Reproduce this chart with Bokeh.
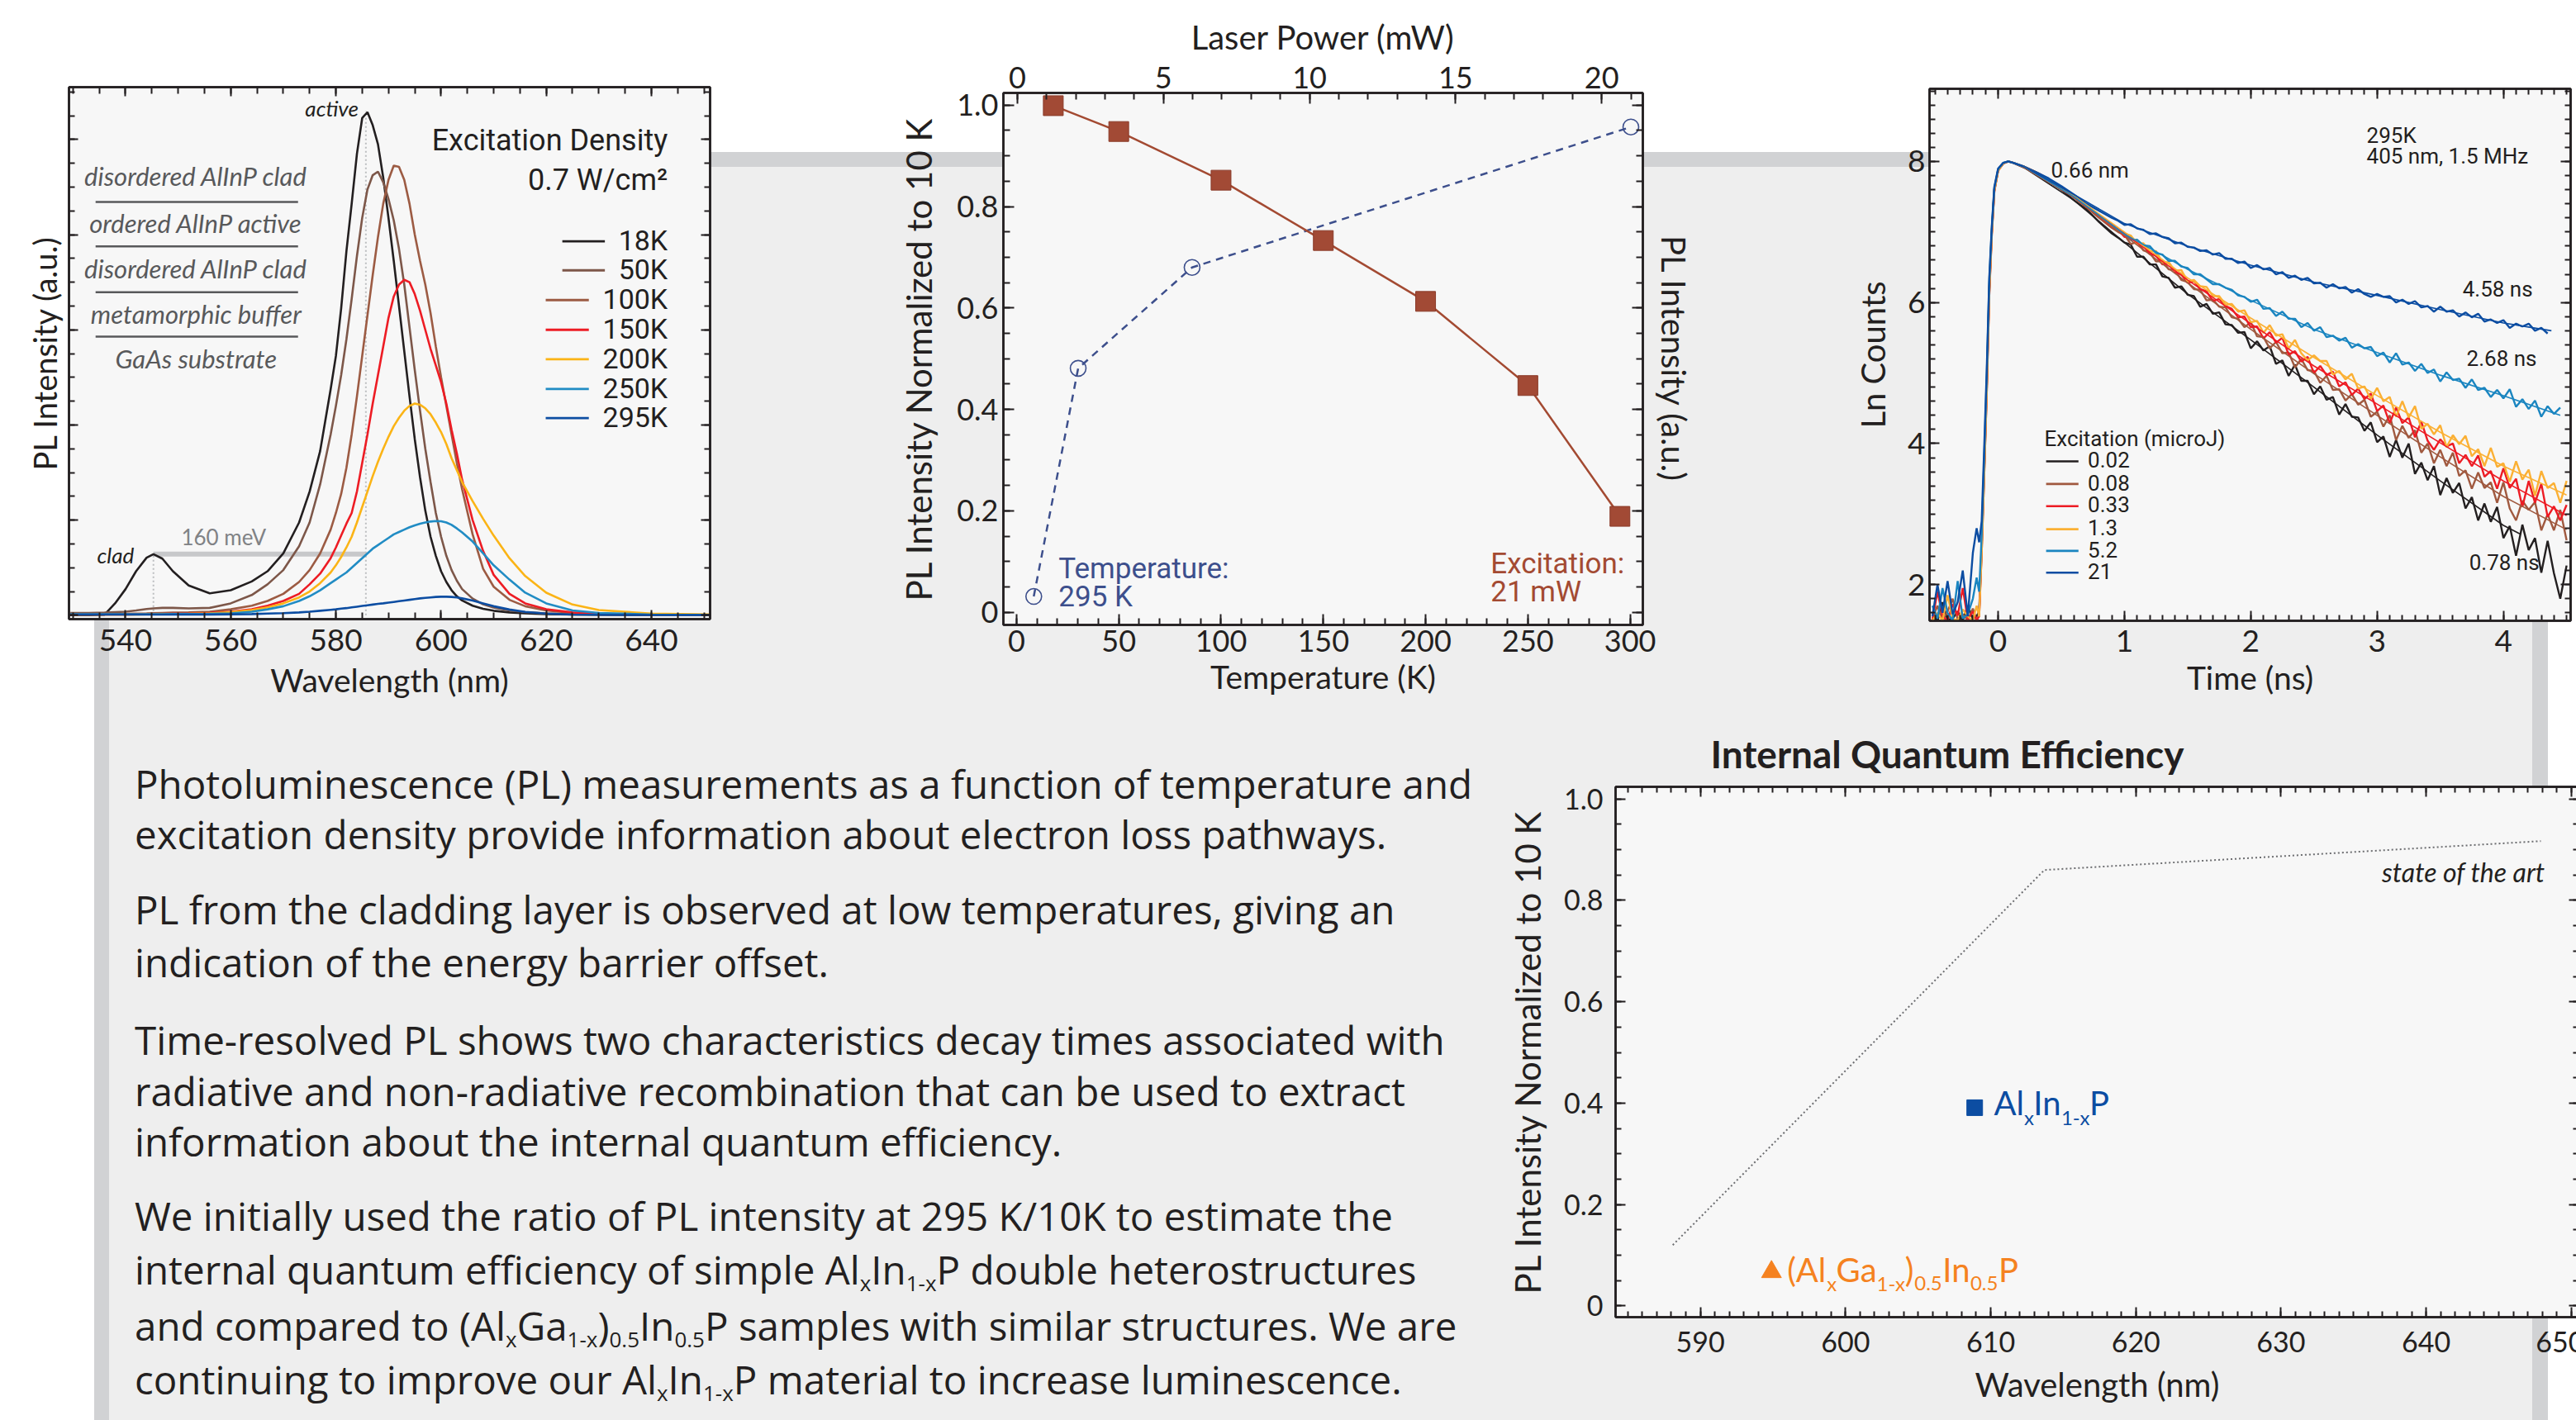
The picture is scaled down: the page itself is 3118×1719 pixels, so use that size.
from bokeh.plotting import figure
from bokeh.models import (LinearAxis, Range1d, SingleIntervalTicker, Div, CustomLabelingPolicy,
                          CustomJSTickFormatter)
from bokeh.layouts import row, column
from bokeh.core.properties import value
from bokeh.embed import file_html
from bokeh.resources import INLINE

# ---------------------------------------------------------------- data
# Panel 1: PL spectra vs temperature (arbitrary units)
spec_wl = [529.5, 533, 536, 538, 540, 542, 544, 545.3, 547, 549, 552, 556, 560, 564, 567, 570, 573, 575, 577, 579,
           580, 581, 582, 583, 584, 585, 586, 587, 588, 589, 590, 591, 592, 593, 594, 595, 596, 597, 598, 599,
           600, 601, 602, 603, 604, 606, 608, 610, 613, 616, 620, 625, 630, 640, 651.5]
pl_18K = [0.0, 0.0, 0.02, 0.5, 1.1, 1.85, 2.42, 2.57, 2.38, 1.85, 1.25, 0.92, 1.05, 1.42, 1.85, 2.6, 3.9, 5.2, 6.9, 9.5,
          10.9, 12.9, 15.3, 17.3, 19.4, 20.9, 21.15, 20.6, 19.8, 18.4, 16.7, 14.9, 13.0, 11.1, 9.2, 7.4, 5.8, 4.4, 3.3, 2.5,
          1.85, 1.4, 1.05, 0.8, 0.62, 0.4, 0.27, 0.19, 0.12, 0.08, 0.05, 0.03, 0.02, 0.01, 0.0]
pl_50K = [0.1, 0.1, 0.11, 0.13, 0.15, 0.2, 0.26, 0.29, 0.31, 0.31, 0.29, 0.31, 0.5, 0.85, 1.3, 1.9, 2.9, 3.9, 5.5, 7.6,
          8.8, 10.1, 11.6, 13.3, 15.1, 16.7, 17.9, 18.5, 18.65, 18.2, 17.5, 16.6, 15.4, 13.9, 12.1, 10.3, 8.6, 7.0, 5.6, 4.3,
          3.3, 2.5, 1.9, 1.45, 1.1, 0.7, 0.46, 0.32, 0.2, 0.13, 0.08, 0.05, 0.03, 0.02, 0.01]
pl_100K = [0.05, 0.05, 0.05, 0.05, 0.06, 0.07, 0.08, 0.09, 0.1, 0.11, 0.12, 0.15, 0.25, 0.4, 0.6, 0.9, 1.4, 1.9, 2.6, 3.6,
           4.3, 5.1, 6.2, 7.6, 9.2, 10.9, 12.6, 14.3, 15.9, 17.3, 18.3, 18.9, 18.85, 18.3, 17.3, 16.0, 14.9, 13.9, 12.7, 11.3,
           10.0, 8.8, 7.6, 6.4, 5.3, 3.4, 1.95, 1.2, 0.65, 0.38, 0.2, 0.1, 0.06, 0.03, 0.02]
pl_150K = [0.03, 0.03, 0.03, 0.03, 0.03, 0.04, 0.04, 0.05, 0.05, 0.06, 0.07, 0.1, 0.15, 0.25, 0.4, 0.6, 0.9, 1.3, 1.75, 2.4,
           2.85, 3.35, 3.85, 4.3, 5.2, 6.4, 7.6, 8.9, 10.1, 11.3, 12.5, 13.4, 13.9, 14.1, 14.0, 13.5, 12.8, 12.0, 11.2, 10.5,
           9.8, 8.9, 7.8, 6.8, 5.7, 4.0, 2.7, 1.7, 0.9, 0.5, 0.25, 0.12, 0.06, 0.03, 0.02]
pl_200K = [0.03, 0.03, 0.03, 0.03, 0.03, 0.03, 0.04, 0.04, 0.05, 0.05, 0.06, 0.08, 0.13, 0.22, 0.33, 0.5, 0.75, 1.0, 1.35, 1.8,
           2.1, 2.45, 2.85, 3.3, 3.9, 4.55, 5.2, 5.85, 6.45, 7.0, 7.5, 7.95, 8.3, 8.6, 8.8, 8.9, 8.85, 8.7, 8.45, 8.1,
           7.7, 7.2, 6.6, 6.1, 5.6, 4.8, 4.05, 3.35, 2.4, 1.65, 0.95, 0.45, 0.22, 0.07, 0.03]
pl_250K = [0.04, 0.04, 0.04, 0.04, 0.04, 0.04, 0.04, 0.04, 0.04, 0.05, 0.05, 0.06, 0.08, 0.15, 0.25, 0.38, 0.6, 0.8, 1.05, 1.35,
           1.5, 1.65, 1.8, 2.0, 2.2, 2.4, 2.6, 2.8, 2.95, 3.1, 3.25, 3.4, 3.5, 3.6, 3.7, 3.78, 3.85, 3.9, 3.94, 3.96,
           3.95, 3.9, 3.8, 3.65, 3.48, 3.1, 2.6, 2.1, 1.5, 0.95, 0.5, 0.2, 0.1, 0.03, 0.02]
pl_295K = [0.03, 0.03, 0.03, 0.03, 0.03, 0.03, 0.03, 0.03, 0.03, 0.03, 0.03, 0.03, 0.04, 0.05, 0.07, 0.09, 0.12, 0.15, 0.19, 0.23,
           0.25, 0.28, 0.3, 0.33, 0.36, 0.39, 0.42, 0.45, 0.48, 0.5, 0.53, 0.56, 0.59, 0.62, 0.65, 0.68, 0.71, 0.73, 0.75, 0.77,
           0.78, 0.78, 0.77, 0.75, 0.71, 0.62, 0.5, 0.38, 0.24, 0.14, 0.07, 0.03, 0.02, 0.01, 0.01]
spec_labels = ["18K", "50K", "100K", "150K", "200K", "250K", "295K"]
layer_names = ["disordered AlInP clad", "ordered AlInP active", "disordered AlInP clad",
               "metamorphic buffer", "GaAs substrate"]
clad_peak_wl, clad_peak_pl = 545.3, 2.57
active_peak_wl, active_peak_pl = 585.7, 21.2

# Panel 2: normalized PL vs temperature / laser power
temp_K = [18, 50, 100, 150, 200, 250, 295]
pl_vs_temp = [0.999, 0.948, 0.852, 0.733, 0.613, 0.447, 0.189]
power_mW = [0.56, 2.08, 5.98, 21.0]
pl_vs_power = [0.031, 0.481, 0.680, 0.957]

# Panel 3: time-resolved PL (ln counts)
t_decay = [-0.52, -0.48, -0.44, -0.40, -0.36, -0.32, -0.28, -0.24, -0.20, -0.17, -0.15, -0.13, -0.11, -0.09, -0.07,
           -0.05, -0.03, 0.0, 0.04, 0.08, 0.12, 0.2, 0.3, 0.4, 0.5, 0.6, 0.7, 0.8, 0.9, 0.95,
           1.0, 1.05, 1.1, 1.15, 1.2, 1.25, 1.3, 1.35, 1.4, 1.45, 1.5, 1.55, 1.6, 1.65, 1.7, 1.75, 1.8, 1.85, 1.9, 1.95,
           2.0, 2.05, 2.1, 2.15, 2.2, 2.25, 2.3, 2.35, 2.4, 2.45, 2.5, 2.55, 2.6, 2.65, 2.7, 2.75, 2.8, 2.85, 2.9, 2.95,
           3.0, 3.05, 3.1, 3.15, 3.2, 3.25, 3.3, 3.35, 3.4, 3.45, 3.5, 3.55, 3.6, 3.65, 3.7, 3.75, 3.8, 3.85, 3.9, 3.95,
           4.0, 4.05, 4.1, 4.15, 4.2, 4.25, 4.3, 4.35, 4.4, 4.45, 4.5]
ln_002 = [1.60, 1.48, 1.75, 1.50, 1.52, 1.62, 1.49, 1.70, 1.52, 1.55, 1.62, 2.55, 3.65, 4.80, 6.20, 7.00, 7.60, 7.88, 7.97, 8.00,
          7.98, 7.92, 7.83, 7.72, 7.60, 7.45, 7.32, 7.14, 6.98, 6.92,
          6.85, 6.82, 6.65, 6.65, 6.54, 6.54, 6.37, 6.35, 6.21, 6.23, 6.11, 6.09, 5.94, 5.98, 5.84, 5.86, 5.69, 5.68, 5.57, 5.58,
          5.35, 5.45, 5.32, 5.38, 5.13, 5.18, 4.96, 5.12, 4.89, 4.89, 4.70, 4.81, 4.62, 4.66, 4.41, 4.56, 4.38, 4.37, 4.18, 4.30,
          4.02, 4.10, 3.81, 4.05, 3.80, 4.00, 3.57, 3.73, 3.48, 3.68, 3.27, 3.51, 3.30, 3.44, 3.08, 3.24, 2.91, 3.15, 2.89, 3.10,
          2.66, 2.83, 2.41, 2.85, 2.49, 2.66, 2.17, 2.62, 2.16, 1.80, 2.27]
ln_008 = [1.52, 1.70, 1.49, 1.62, 1.80, 1.50, 1.58, 1.49, 1.66, 1.50, 1.58, 2.50, 3.60, 4.75, 6.15, 6.98, 7.58, 7.87, 7.97, 8.00,
          7.98, 7.92, 7.84, 7.74, 7.62, 7.49, 7.35, 7.20, 7.06, 7.00,
          6.96, 6.83, 6.86, 6.74, 6.71, 6.58, 6.59, 6.47, 6.46, 6.32, 6.29, 6.19, 6.18, 6.03, 6.04, 5.94, 5.93, 5.79, 5.77, 5.65,
          5.72, 5.52, 5.51, 5.35, 5.44, 5.28, 5.29, 5.08, 5.20, 5.04, 5.03, 4.86, 4.96, 4.76, 4.77, 4.61, 4.70, 4.55, 4.62, 4.38,
          4.45, 4.24, 4.40, 4.05, 4.25, 4.08, 4.19, 3.87, 4.00, 3.72, 3.91, 3.68, 3.87, 3.54, 3.62, 3.36, 3.59, 3.37, 3.45, 3.16,
          3.45, 3.08, 2.91, 3.19, 3.06, 3.17, 2.77, 3.00, 2.77, 3.06, 2.63]
ln_033 = [1.50, 1.90, 1.55, 1.49, 1.72, 1.56, 1.95, 1.50, 1.62, 1.49, 1.55, 2.45, 3.55, 4.70, 6.10, 6.95, 7.57, 7.87, 7.97, 8.00,
          7.98, 7.93, 7.85, 7.75, 7.63, 7.50, 7.36, 7.22, 7.08, 7.03,
          6.93, 6.93, 6.84, 6.82, 6.69, 6.67, 6.54, 6.57, 6.43, 6.40, 6.28, 6.30, 6.19, 6.16, 6.02, 6.05, 5.95, 5.91, 5.79, 5.80,
          5.65, 5.66, 5.49, 5.58, 5.43, 5.50, 5.26, 5.31, 5.16, 5.23, 5.00, 5.10, 4.97, 5.02, 4.81, 4.87, 4.69, 4.78, 4.63, 4.71,
          4.46, 4.54, 4.29, 4.51, 4.29, 4.37, 4.09, 4.31, 4.04, 3.91, 4.06, 3.96, 4.00, 3.72, 3.84, 3.68, 3.83, 3.53, 3.61, 3.36,
          3.65, 3.37, 3.50, 3.10, 3.47, 3.16, 3.43, 2.96, 3.11, 2.91, 3.13]
ln_13 = [1.49, 1.60, 1.49, 1.85, 1.52, 1.49, 1.65, 1.55, 1.49, 1.70, 1.55, 2.45, 3.55, 4.72, 6.12, 6.96, 7.58, 7.87, 7.97, 8.00,
         7.98, 7.93, 7.85, 7.75, 7.63, 7.51, 7.37, 7.23, 7.09, 7.04,
         6.98, 6.95, 6.83, 6.84, 6.73, 6.73, 6.57, 6.57, 6.45, 6.46, 6.30, 6.32, 6.23, 6.22, 6.09, 6.09, 5.97, 5.98, 5.87, 5.89,
         5.72, 5.74, 5.57, 5.68, 5.53, 5.55, 5.35, 5.47, 5.28, 5.18, 5.25, 5.17, 5.17, 4.98, 5.03, 4.91, 4.99, 4.78, 4.81, 4.63,
         4.79, 4.60, 4.66, 4.38, 4.60, 4.37, 4.53, 4.21, 4.28, 4.13, 4.26, 3.95, 4.12, 3.99, 4.11, 3.82, 3.92, 3.68, 3.94, 3.67,
         3.72, 3.46, 3.75, 3.49, 3.63, 3.26, 3.61, 3.37, 3.44, 3.16, 3.47]
ln_52 = [1.70, 1.52, 1.95, 1.60, 1.49, 2.05, 1.52, 1.58, 1.80, 2.10, 1.90, 2.70, 3.80, 4.95, 6.30, 7.05, 7.62, 7.89, 7.98, 8.00,
         7.98, 7.93, 7.84, 7.74, 7.62, 7.50, 7.37, 7.23, 7.10, 7.03,
         6.98, 6.89, 6.89, 6.81, 6.80, 6.70, 6.68, 6.59, 6.59, 6.51, 6.49, 6.40, 6.40, 6.33, 6.26, 6.26, 6.21, 6.18, 6.10, 6.08,
         6.01, 6.04, 5.91, 5.92, 5.81, 5.87, 5.77, 5.77, 5.65, 5.71, 5.60, 5.65, 5.51, 5.53, 5.46, 5.50, 5.36, 5.41, 5.35, 5.37,
         5.24, 5.29, 5.15, 5.28, 5.12, 5.15, 5.03, 5.13, 5.00, 5.05, 4.88, 5.01, 4.90, 4.92, 4.79, 4.91, 4.76, 4.79, 4.66, 4.76,
         4.64, 4.77, 4.52, 4.63, 4.49, 4.61, 4.38, 4.53, 4.42, 4.51]
ln_21 = [1.55, 2.00, 1.60, 2.05, 1.58, 1.75, 2.20, 1.55, 2.45, 2.80, 2.60, 2.90, 3.95, 5.05, 6.35, 7.08, 7.64, 7.90, 7.98, 8.00,
         7.98, 7.93, 7.85, 7.76, 7.65, 7.53, 7.40, 7.30, 7.20, 7.16,
         7.10, 7.11, 7.05, 7.03, 6.97, 6.98, 6.93, 6.91, 6.84, 6.85, 6.79, 6.78, 6.73, 6.74, 6.68, 6.70, 6.62, 6.62, 6.56, 6.58,
         6.49, 6.53, 6.47, 6.49, 6.40, 6.43, 6.35, 6.38, 6.32, 6.35, 6.27, 6.28, 6.21, 6.26, 6.20, 6.22, 6.14, 6.19, 6.12, 6.08,
         6.12, 6.08, 6.09, 6.00, 6.04, 5.98, 6.02, 5.93, 5.95, 5.87, 5.94, 5.87, 5.89, 5.80, 5.86, 5.79, 5.84, 5.73, 5.76, 5.71,
         5.75, 5.64, 5.70, 5.66, 5.70, 5.60, 5.64, 5.56]
fit_t_002 = [0.2, 0.6, 1.0, 1.5, 2.0, 2.5, 3.0, 3.5, 4.0, 4.13]
fit_002 = [7.92, 7.45, 6.85, 6.12, 5.47, 4.80, 4.12, 3.47, 2.84, 2.72]
fit_t = [0.2, 0.6, 1.0, 1.5, 2.0, 2.5, 3.0, 3.5, 4.0, 4.5]
fit_008 = [7.92, 7.49, 6.95, 6.28, 5.62, 4.99, 4.40, 3.81, 3.25, 2.78]
fit_033 = [7.93, 7.50, 6.98, 6.32, 5.70, 5.10, 4.56, 4.01, 3.47, 2.98]
fit_13 = [7.93, 7.51, 7.00, 6.35, 5.78, 5.22, 4.68, 4.16, 3.68, 3.27]
fit_t_52 = [0.2, 0.6, 1.0, 1.5, 2.0, 2.5, 3.0, 3.5, 4.0, 4.45]
fit_52 = [7.93, 7.50, 6.97, 6.47, 6.03, 5.62, 5.29, 4.97, 4.68, 4.40]
fit_t_21 = [0.2, 0.6, 1.0, 1.5, 2.0, 2.5, 3.0, 3.5, 4.0, 4.38]
fit_21 = [7.93, 7.53, 7.12, 6.80, 6.53, 6.29, 6.10, 5.90, 5.71, 5.60]
excitation_labels = ["0.02", "0.08", "0.33", "1.3", "5.2", "21"]
lifetime_labels = ["4.58 ns", "2.68 ns", "0.78 ns"]

# Panel 4: internal quantum efficiency
sota_wl = [588.1, 613.7, 647.9]
sota_iqe = [0.12, 0.86, 0.917]
alinp_wl = [608.9]
alinp_iqe = [0.391]
algainp_wl = [594.9]
algainp_iqe = [0.067]

body_lines = [
    "Photoluminescence (PL) measurements as a function of temperature and",
    "excitation density provide information about electron loss pathways.",
    "PL from the cladding layer is observed at low temperatures, giving an",
    "indication of the energy barrier offset.",
    "Time-resolved PL shows two characteristics decay times associated with",
    "radiative and non-radiative recombination that can be used to extract",
    "information about the internal quantum efficiency.",
    "We initially used the ratio of PL intensity at 295 K/10K to estimate the",
    "internal quantum efficiency of simple Al<sub>x</sub>In<sub>1-x</sub>P double heterostructures",
    "and compared to (Al<sub>x</sub>Ga<sub>1-x</sub>)<sub>0.5</sub>In<sub>0.5</sub>P samples with similar structures. We are",
    "continuing to improve our Al<sub>x</sub>In<sub>1-x</sub>P material to increase luminescence.",
]

# ---------------------------------------------------------------- style
INK = "#231f20"
PANEL = "#f7f7f7"
HELV = "Roboto"
MYR = "Lato"
spec_colors = ["#231f20", "#7d5749", "#9c5b43", "#ed1c24", "#fbb416", "#218cc4", "#0c4da2"]
decay_colors = ["#231f20", "#a0593f", "#ed1c24", "#fbb034", "#1a85c0", "#0c4da2"]
HIDE = "for (const i of indices) { indices.unset(i) }\nreturn indices"
ONE_DEC = "return tick == 0 ? '0' : tick.toFixed(1)"

TOP_H = 868
BOT_H = 1719 - TOP_H


def base_fig(w, h, xr, yr, ml, mr, mt, mb, title=None):
    p = figure(width=w, height=h, x_range=Range1d(*xr), y_range=Range1d(*yr),
               toolbar_location=None, output_backend="svg",
               x_axis_location=None, y_axis_location=None,
               min_border_left=ml, min_border_right=mr, min_border_top=mt, min_border_bottom=mb,
               title=title)
    p.frame_align = False
    p.grid.visible = False
    p.background_fill_color = PANEL
    p.border_fill_color = None
    p.outline_line_color = INK
    p.outline_line_width = 2.5
    return p


def add_axis(p, side, interval, minor, major_in, minor_in, label_px=None, standoff=0, label=None,
             label_font_px=40, label_standoff=5, range_name=None, one_decimal=False):
    kw = {}
    if range_name:
        kw["x_range_name" if side in ("above", "below") else "y_range_name"] = range_name
    ax = LinearAxis(ticker=SingleIntervalTicker(interval=interval, num_minor_ticks=minor), **kw)
    ax.axis_line_color = INK
    ax.axis_line_width = 2.5
    ax.major_tick_line_color = INK
    ax.major_tick_line_width = 2
    ax.minor_tick_line_color = INK
    ax.minor_tick_line_width = 2
    ax.major_tick_in = major_in
    ax.major_tick_out = 0
    ax.minor_tick_in = minor_in
    ax.minor_tick_out = 0
    ax.major_label_text_font = MYR
    ax.major_label_text_color = INK
    if label_px is None:
        ax.major_label_text_font_size = "0px"
        ax.major_label_standoff = 0
        ax.major_label_policy = CustomLabelingPolicy(code=HIDE)
    else:
        ax.major_label_text_font_size = f"{label_px}px"
        ax.major_label_standoff = standoff
    if one_decimal:
        ax.formatter = CustomJSTickFormatter(code=ONE_DEC)
    if label:
        ax.axis_label = label
        ax.axis_label_text_font = MYR
        ax.axis_label_text_font_style = "normal"
        ax.axis_label_text_font_size = f"{label_font_px}px"
        ax.axis_label_text_color = INK
        ax.axis_label_standoff = label_standoff
    p.add_layout(ax, side)
    return ax


def note(p, xs, ys, texts, size, color=INK, font=HELV, align="left", style="normal"):
    p.text(x=xs, y=ys, text=texts, text_font=value(font), text_font_size=f"{size}px",
           text_font_style=style, text_align=align, text_baseline="alphabetic", text_color=color)


# ---------------------------------------------------------------- panel 1
p1 = base_fig(1008, TOP_H, (529.24, 651.16), (-0.163, 22.2), 83, 149, 105, TOP_H - 749)
add_axis(p1, "below", 20, 4, 11, 8, label_px=37, standoff=12, label="Wavelength (nm)", label_font_px=39,
         label_standoff=9)
add_axis(p1, "above", 20, 4, 11, 8)
add_axis(p1, "left", 4, 4, 11, 7, label="PL Intensity (a.u.)", label_font_px=38, label_standoff=7)
add_axis(p1, "right", 4, 4, 11, 7)

series = [pl_18K, pl_50K, pl_100K, pl_150K, pl_200K, pl_250K, pl_295K]
p1.line([clad_peak_wl, active_peak_wl], [clad_peak_pl, clad_peak_pl], line_color="#c7c8ca", line_width=6)
p1.line([clad_peak_wl, clad_peak_wl], [0, clad_peak_pl], line_color="#bcbec0", line_width=2, line_dash="2 3")
p1.line([active_peak_wl, active_peak_wl], [0, active_peak_pl], line_color="#bcbec0", line_width=2, line_dash="2 3")
for ys, c in zip(series, spec_colors):
    p1.line(spec_wl, ys, line_color=c, line_width=2.6)

leg_y = [15.72, 14.5, 13.25, 12.0, 10.76, 9.51, 8.29]
leg_x0 = [623.06, 623.06, 619.9, 619.9, 619.9, 619.9, 619.9]
leg_x1 = [631.15, 631.15, 628.1, 628.1, 628.1, 628.1, 628.1]
p1.segment(x0=leg_x0, x1=leg_x1, y0=leg_y, y1=leg_y, line_color=spec_colors, line_width=2.8)
note(p1, [643.1] * 7, [v + 0.03 for v in leg_y], spec_labels, 34, align="right")
note(p1, [643.1], [19.95], ["Excitation Density"], 36, align="right")
note(p1, [643.1], [18.3], ["0.7 W/cm\u00b2"], 36, align="right")
note(p1, [553.4] * 5, [18.45, 16.5, 14.58, 12.66, 10.78], layer_names, 31, color="#58595b", font=MYR,
     align="center", style="italic")
p1.segment(x0=[534.3] * 4, x1=[572.8] * 4, y0=[17.37, 15.51, 13.58, 11.71], y1=[17.37, 15.51, 13.58, 11.71],
           line_color="#58595b", line_width=2.5)
note(p1, [584.3, 541.6], [21.3, 2.52], ["active", "clad"], 26, font=MYR, align="right", style="italic")
note(p1, [550.6], [3.3], ["160 meV"], 26, color="#808285", font=MYR)

# ---------------------------------------------------------------- panel 2
p2 = base_fig(1150, TOP_H, (-6.4, 306.2), (-0.0251, 1.0241), 206, 170, 112, TOP_H - 756)
p2.extra_x_ranges = {"power": Range1d(-0.48, 21.41)}
add_axis(p2, "below", 50, 5, 13, 8, label_px=36, standoff=6, label="Temperature (K)", label_font_px=39,
         label_standoff=4)
add_axis(p2, "above", 5, 5, 13, 8, label_px=36, standoff=6, label="Laser Power (mW)", label_standoff=9,
         range_name="power")
add_axis(p2, "left", 0.2, 4, 13, 8, label_px=36, standoff=6, label="PL Intensity Normalized to 10 K",
         label_font_px=42, label_standoff=18, one_decimal=True)
add_axis(p2, "right", 0.2, 4, 13, 8, label="PL Intensity (a.u.)", label_standoff=13)

blue2 = "#3d4f8c"
red2 = "#a34a32"
p2.line(power_mW, pl_vs_power, x_range_name="power", line_color=blue2, line_width=2.5, line_dash="9 7")
p2.scatter(power_mW, pl_vs_power, x_range_name="power", marker="circle", size=19, fill_color=None,
           line_color=blue2, line_width=1.6)
p2.line(temp_K, pl_vs_temp, line_color=red2, line_width=2.5)
p2.scatter(temp_K, pl_vs_temp, marker="square", size=24, fill_color="#a24a35", line_color="#8a3a28", line_width=1)
note(p2, [20.6, 20.6], [0.085, 0.031], ["Temperature:", "295 K"], 35, color=blue2)
note(p2, [231.8, 231.8], [0.096, 0.04], ["Excitation:", "21 mW"], 35, color=red2)

# ---------------------------------------------------------------- panel 3
p3 = base_fig(960, TOP_H, (-0.543, 4.532), (1.487, 9.03), 177, 7, 107, TOP_H - 751)
add_axis(p3, "below", 1, 10, 12, 7, label_px=37, standoff=11, label="Time (ns)", label_font_px=39,
         label_standoff=5)
add_axis(p3, "above", 1, 10, 12, 7)
add_axis(p3, "left", 2, 10, 12, 7, label_px=37, standoff=5, label="Ln Counts", label_standoff=15)
add_axis(p3, "right", 2, 10, 12, 7)

decay = [ln_002, ln_008, ln_033, ln_13, ln_52, ln_21]
for ys, c in zip(decay, decay_colors):
    p3.line(t_decay[:len(ys)], ys, line_color=c, line_width=2.4)
fits = [(fit_t_002, fit_002), (fit_t, fit_008), (fit_t, fit_033), (fit_t, fit_13), (fit_t_52, fit_52),
        (fit_t_21, fit_21)]
for (ft, fy), c in zip(fits, decay_colors):
    p3.line(ft, fy, line_color=c, line_width=1.6)

leg3_y = [3.748, 3.427, 3.113, 2.786, 2.478, 2.169]
p3.segment(x0=[0.38] * 6, x1=[0.636] * 6, y0=leg3_y, y1=leg3_y, line_color=decay_colors, line_width=2.6)
note(p3, [0.71] * 6, [v + 0.02 for v in leg3_y], excitation_labels, 26)
note(p3, [0.366, 0.419, 2.917, 2.917], [4.07, 7.88, 8.37, 8.07],
     ["Excitation (microJ)", "0.66 nm", "295K", "405 nm, 1.5 MHz"], 26)
note(p3, [4.232, 4.264, 4.284], [6.19, 5.21, 2.31], lifetime_labels, 26, align="right")

# ---------------------------------------------------------------- panel 4
p4 = base_fig(1330, BOT_H, (584.16, 650.52), (-0.0223, 1.0241), 157, 7, 952 - TOP_H, 1719 - 1594,
              title="Internal Quantum Efficiency")
p4.title.text_font = MYR
p4.title.text_font_style = "bold"
p4.title.text_font_size = "46px"
p4.title.text_color = INK
p4.title.align = "left"
p4.title.offset = 115
p4.title.standoff = 25
add_axis(p4, "below", 10, 10, 12, 7, label_px=34, standoff=17, label="Wavelength (nm)", label_standoff=12)
add_axis(p4, "above", 10, 10, 12, 7)
add_axis(p4, "left", 0.2, 4, 12, 7, label_px=34, standoff=15, label="PL Intensity Normalized to 10 K",
         label_font_px=42, label_standoff=16, one_decimal=True)
add_axis(p4, "right", 0.2, 4, 12, 7)

blue4 = "#0c4da2"
orange4 = "#f58220"
p4.line(sota_wl, sota_iqe, line_color="#6d6e71", line_width=2, line_dash="2 3")
p4.scatter(alinp_wl, alinp_iqe, marker="square", size=19, fill_color=blue4, line_color=blue4)
p4.scatter(algainp_wl, algainp_iqe, marker="triangle", size=24, fill_color=orange4, line_color=orange4)
note(p4, [648.2], [0.857], ["state of the art"], 32, font=MYR, align="right", style="italic")
# Al_x In_1-x P
note(p4, [610.23, 612.95, 616.8], [0.4] * 3, ["Al", "In", "P"], 40, color=blue4, font=MYR)
note(p4, [612.3, 614.86], [0.372] * 2, ["x", "1-x"], 24, color=blue4, font=MYR)
# (Al_x Ga_1-x)_0.5 In_0.5 P
note(p4, [595.98, 599.36, 604.09, 606.69, 610.54], [0.072] * 5, ["(Al", "Ga", ")", "In", "P"], 40,
     color=orange4, font=MYR)
note(p4, [598.71, 602.15, 604.75, 608.6], [0.044] * 4, ["x", "1-x", "0.5", "0.5"], 24, color=orange4, font=MYR)

# ---------------------------------------------------------------- body text
line_tops = [51.9, 113.3, 204.3, 268.3, 362.3, 423.8, 485.3, 575.3, 640.3, 707.8, 772.9]
sub_css = "font-size:26px;vertical-align:-8px;line-height:0;"
parts = []
for top, txt in zip(line_tops, body_lines):
    txt = txt.replace("<sub>", f'<sub style="{sub_css}">')
    parts.append(f'<div style="position:absolute;left:158px;top:{top}px;line-height:47px;'
                 f'white-space:nowrap;">{txt}</div>')
body_html = (f'<div style="position:relative;width:1788px;height:{BOT_H}px;font-family:\'Open Sans\';'
             'font-size:47.5px;color:#231f20;">' + "".join(parts) + "</div>")
body = Div(text=body_html, width=1788, height=BOT_H)

# ---------------------------------------------------------------- layout
bg = {
    "background-image": "linear-gradient(#eeeeee,#eeeeee), linear-gradient(#d1d2d4,#d1d2d4)",
    "background-size": "2933px 1600px, 2970px 1600px",
    "background-position": "132px 202px, 114px 184px",
    "background-repeat": "no-repeat",
}
root = column(row(p1, p2, p3), row(body, p4), styles=bg)

open("out.html", "w").write(file_html(root, INLINE))
